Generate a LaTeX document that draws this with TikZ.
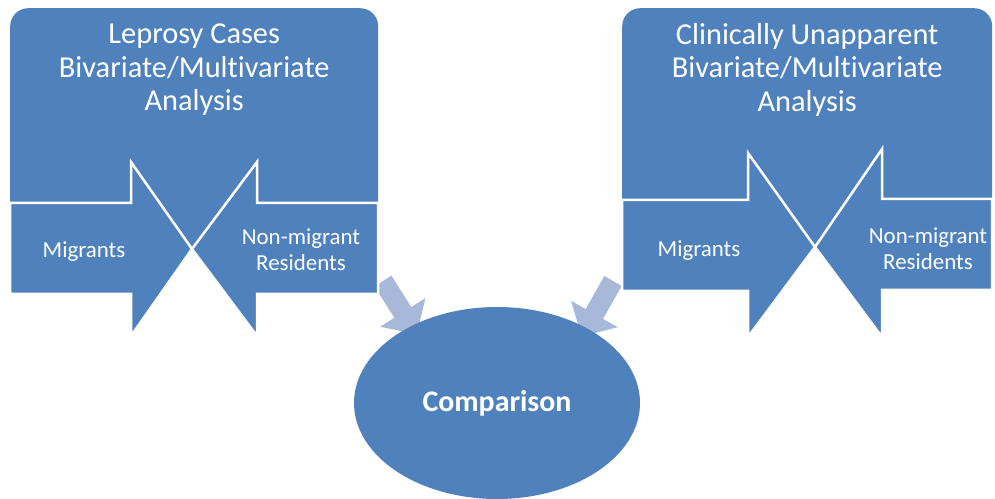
\documentclass[tikz,border=0pt]{standalone}
\usepackage{fontspec}
\setmainfont[Ligatures={NoCommon,NoRare,NoContextual}]{Carlito}
\usetikzlibrary{positioning,shapes.geometric,arrows.meta,backgrounds}

\definecolor{boxblue}{HTML}{4F81BD}
\definecolor{linkblue}{HTML}{A7B8D8}

\tikzset{
  groupbox/.style={fill=boxblue, rounded corners=18bp, anchor=north west,
    minimum height=240bp, inner sep=0pt},
  headtext/.style={text=white, align=center, inner sep=2bp,
    font=\fontsize{30.5}{33.5}\selectfont},
  armtext/.style={text=white, align=center, inner sep=1bp,
    font=\fontsize{23}{26}\selectfont},
  arm/.style={fill=boxblue, draw=white, line width=2.5bp, line join=miter},
  link/.style={draw=linkblue, line width=20bp, shorten >=-10bp,
    -{Triangle[width=52bp,length=26bp]}},
}

\begin{document}
\begin{tikzpicture}[x=1bp, y=-1bp]
    \useasboundingbox (0,0) rectangle (995,499);

    % leprosy cases
    \node [groupbox, minimum width=368bp] (lepbox) at (10,8) {};
    \node [headtext, below=14bp of lepbox.north] (leptitle)
      {Leprosy Cases\\Bivariate/Multivariate\\Analysis};
    \draw [arm] (10,203) -- (131,203) -- (131,162) -- (192,249)
      -- (131,336) -- (131,294) -- (10,294) -- cycle;
    \draw [arm] (378,203) -- (257,203) -- (257,162) -- (192,249)
      -- (257,336) -- (257,294) -- (378,294) -- cycle;
    \node [armtext] (lepmig) at (84,252) {Migrants};
    \node [armtext] (lepres) at (301,250) {Non-migrant\\Residents};

    % clinically unapparent
    \node [groupbox, minimum width=370bp] (unapbox) at (622,8) {};
    \node [headtext, below=13bp of unapbox.north] (unaptitle)
      {Clinically Unapparent\\Bivariate/Multivariate\\Analysis};
    \draw [arm] (622,200) -- (748,200) -- (748,153) -- (815,247)
      -- (748,337) -- (748,291) -- (622,291) -- cycle;
    \draw [arm] (992,199) -- (882,199) -- (882,149) -- (815,247)
      -- (882,337) -- (882,290) -- (992,290) -- cycle;
    \node [armtext] (unapmig) at (699,251) {Migrants};
    \node [armtext] (unapres) at (928,249) {Non-migrant\\Residents};

    \node [ellipse, fill=boxblue, minimum width=286bp, minimum height=192bp,
      inner sep=0pt, text=white, font=\fontsize{30}{33}\selectfont\bfseries]
      (cmp) at (497,403) {Comparison};

    \coordinate (lepout) at (383,281);
    \coordinate (unapout) at (613,281);
    \begin{scope}[on background layer]
      \draw [link] (lepout) -- (cmp.138);
      \draw [link] (unapout) -- (cmp.40);
    \end{scope}
\end{tikzpicture}
\end{document}
